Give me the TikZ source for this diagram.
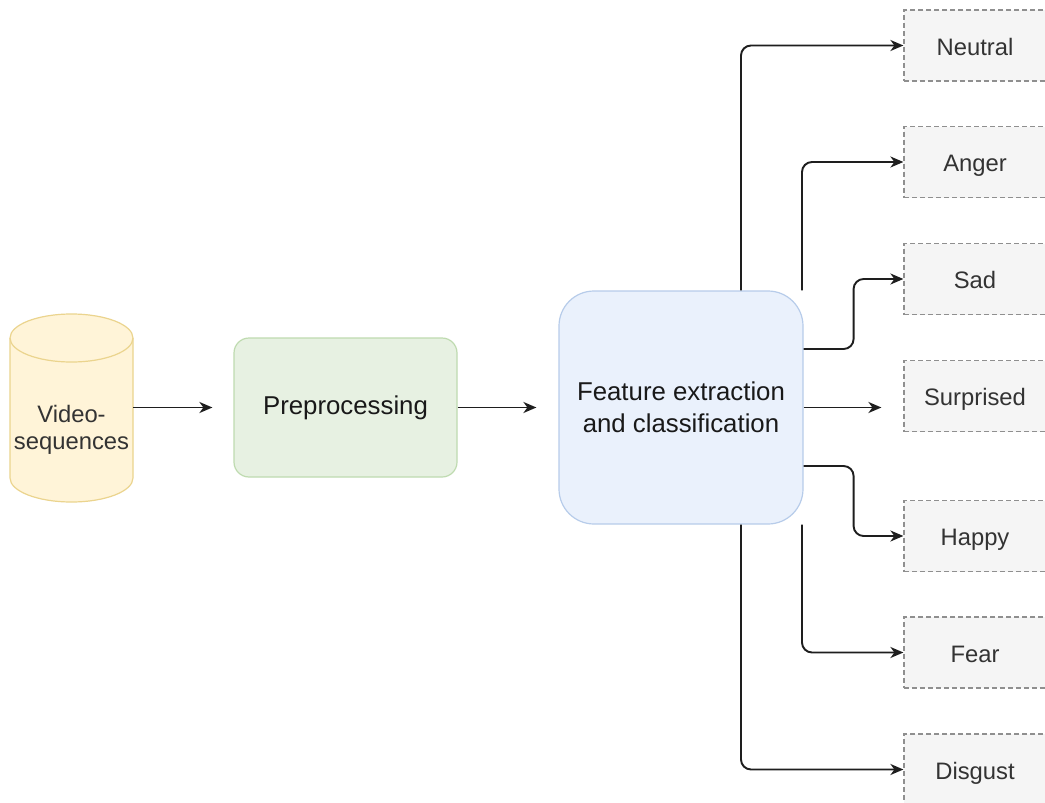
\documentclass[tikz,border=0pt]{standalone}
\usepackage{fontspec}
\setmainfont{Liberation Sans}
\usetikzlibrary{arrows.meta}

\definecolor{cylfillc}{HTML}{FFF4D8}
\definecolor{cyldrawc}{HTML}{EBD48E}
\definecolor{prefillc}{HTML}{E7F1E2}
\definecolor{predrawc}{HTML}{BFDBB0}
\definecolor{featfillc}{HTML}{EAF1FC}
\definecolor{featdrawc}{HTML}{B7CCEA}
\definecolor{outfillc}{HTML}{F5F5F5}
\definecolor{outdrawc}{HTML}{8F8F8F}
\definecolor{linkc}{HTML}{1E1E1E}
\definecolor{labelc}{HTML}{333333}

\begin{document}
\begin{tikzpicture}[x=1pt,y=-1pt,
  maintext/.style={font=\fontsize{25.8}{32}\selectfont, text=black!90},
  smalltext/.style={font=\fontsize{23.8}{27}\selectfont, text=labelc},
  anchorbox/.style={minimum width=123pt, minimum height=188pt, inner sep=0pt},
  prebox/.style={maintext, rectangle, rounded corners=15pt, draw=predrawc, fill=prefillc,
    line width=1.2pt, minimum width=223pt, minimum height=139pt, inner sep=0pt},
  featbox/.style={maintext, rectangle, rounded corners=35pt, draw=featdrawc, fill=featfillc,
    line width=1.2pt, minimum width=244pt, minimum height=233pt, inner sep=0pt, align=center},
  outbox/.style={smalltext, rectangle, draw=outdrawc, fill=outfillc, line width=1.2pt,
    dash pattern=on 5pt off 3pt, minimum width=142pt, minimum height=71pt, inner sep=0pt,
    text height=19pt, text depth=0pt},
  arr/.style={draw=linkc, line width=1.9pt,
    -{Stealth[length=13pt, width=11pt, inset=4pt]}},
  elbow/.style={arr, rounded corners=10pt}
]
\clip (0,0) rectangle (1045,803);
\fill[white] (0,0) rectangle (1045,803);

% cylinder for the video input
\filldraw[fill=cylfillc, draw=cyldrawc, line width=1.2pt]
  (10,338) -- (10,478)
  arc[start angle=180, end angle=360, x radius=61.5pt, y radius=24pt]
  -- (133,338)
  arc[start angle=0, end angle=180, x radius=61.5pt, y radius=24pt] -- cycle;
\draw[draw=cyldrawc, line width=1.2pt]
  (10,338) arc[start angle=180, end angle=360, x radius=61.5pt, y radius=24pt];
\node[anchorbox] (vid) at (71.5,407.5) {};
\node[smalltext, align=center, inner sep=0pt] (vidtext) at (71.5,430) {Video-\\sequences};

% processing stages
\node[prebox] (pre) at (345.5,407.5) {Preprocessing};
\node[featbox] (feat) at (681,407.5) {Feature extraction\\and classification};

% emotion classes
\node[outbox] (neutral)   at (975,45.5)  {Neutral};
\node[outbox] (anger)     at (975,162)   {Anger};
\node[outbox] (sad)       at (975,279)   {Sad};
\node[outbox] (surprised) at (975,396)   {Surprised};
\node[outbox] (happy)     at (975,536)   {Happy};
\node[outbox] (fear)      at (975,652.5) {Fear};
\node[outbox] (disgust)   at (975,769.5) {Disgust};

% main flow
\draw[arr, shorten >=21pt] (vid.east) -- (pre.west);
\draw[arr, shorten >=22pt] (pre.east) -- (feat.west);

% class outputs
\draw[elbow] ([xshift=60pt]feat.north) |- (neutral.west);
\draw[elbow] ([xshift=121pt]feat.north) |- (anger.west);
\draw[elbow] ([yshift=58.5pt]feat.east) -- ++(50pt,0) |- (sad.west);
\draw[arr, shorten >=22pt] (feat.east) -- (surprised.west |- feat.east);
\draw[elbow] ([yshift=-58.5pt]feat.east) -- ++(50pt,0) |- (happy.west);
\draw[elbow] ([xshift=121pt]feat.south) |- (fear.west);
\draw[elbow] ([xshift=60pt]feat.south) |- (disgust.west);
\end{tikzpicture}
\end{document}
